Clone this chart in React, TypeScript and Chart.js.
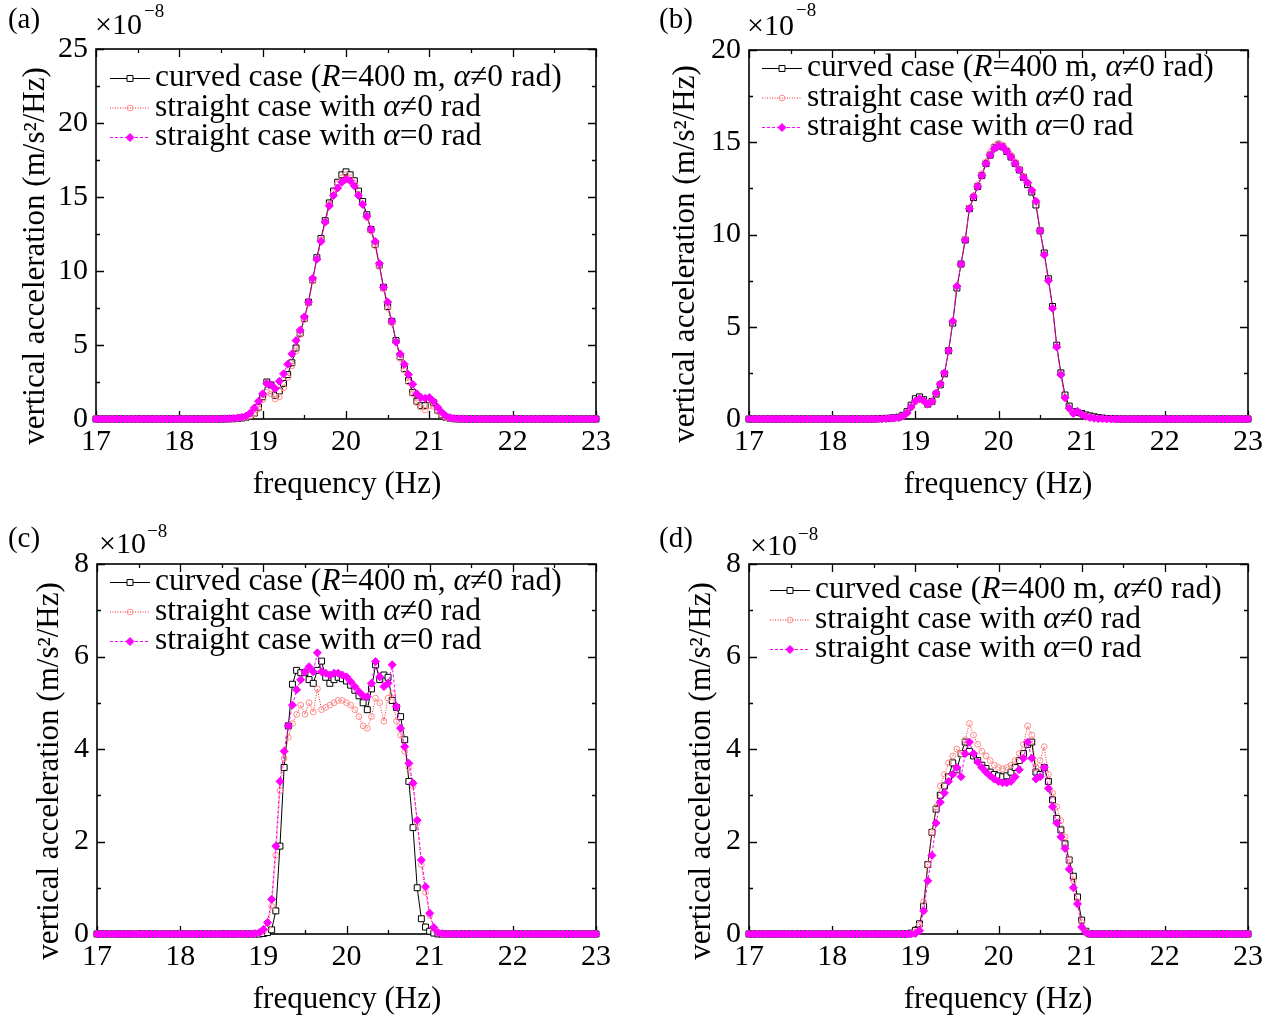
import React, { useEffect, useRef } from 'react';
import { Chart, registerables } from 'chart.js';
Chart.register(...registerables);

// ---------- data (values in units of 1e-8 m/s^2/Hz) ----------
const FREQ = [
  17, 17.05, 17.1, 17.15, 17.2, 17.25, 17.3, 17.35, 17.4, 17.45,
  17.5, 17.55, 17.6, 17.65, 17.7, 17.75, 17.8, 17.85, 17.9, 17.95,
  18, 18.05, 18.1, 18.15, 18.2, 18.25, 18.3, 18.35, 18.4, 18.45,
  18.5, 18.55, 18.6, 18.65, 18.7, 18.75, 18.8, 18.85, 18.9, 18.95,
  19, 19.05, 19.1, 19.15, 19.2, 19.25, 19.3, 19.35, 19.4, 19.45,
  19.5, 19.55, 19.6, 19.65, 19.7, 19.75, 19.8, 19.85, 19.9, 19.95,
  20, 20.05, 20.1, 20.15, 20.2, 20.25, 20.3, 20.35, 20.4, 20.45,
  20.5, 20.55, 20.6, 20.65, 20.7, 20.75, 20.8, 20.85, 20.9, 20.95,
  21, 21.05, 21.1, 21.15, 21.2, 21.25, 21.3, 21.35, 21.4, 21.45,
  21.5, 21.55, 21.6, 21.65, 21.7, 21.75, 21.8, 21.85, 21.9, 21.95,
  22, 22.05, 22.1, 22.15, 22.2, 22.25, 22.3, 22.35, 22.4, 22.45,
  22.5, 22.55, 22.6, 22.65, 22.7, 22.75, 22.8, 22.85, 22.9, 22.95,
  23,
];
// 17.00 .. 18.45
const TAIL_LOW = [0, 0, 0, 0, 0, 0, 0, 0, 0, 0, 0, 0, 0, 0, 0, 0, 0, 0, 0, 0, 0, 0, 0, 0, 0, 0, 0, 0, 0, 0];
// 21.55 .. 23.00
const TAIL_HIGH = [0, 0, 0, 0, 0, 0, 0, 0, 0, 0, 0, 0, 0, 0, 0, 0, 0, 0, 0, 0, 0, 0, 0, 0, 0, 0, 0, 0, 0, 0];

// 18.50 .. 21.50
const A_CURVED_CORE = [
  0, 0, 0.01, 0.02, 0.04, 0.07, 0.12, 0.22, 0.4, 0.8,
  1.5, 2.5, 2.3, 1.6, 1.9, 2.4, 3.0, 3.8, 4.8, 5.8,
  6.8, 7.9, 9.4, 10.9, 12.2, 13.4, 14.6, 15.4, 16.0, 16.5,
  16.7, 16.5, 16.1, 15.4, 14.7, 13.8, 12.8, 11.8, 10.4, 8.9,
  7.6, 6.6, 5.3, 4.2, 3.4, 2.6, 1.8, 1.2, 0.9, 0.9,
  1.3, 1.1, 0.6, 0.3, 0.12, 0.05, 0.02, 0, 0, 0, 0,
];
const A_STRAIGHT_CORE = [
  0, 0, 0.01, 0.02, 0.04, 0.07, 0.12, 0.2, 0.35, 0.7,
  1.3, 1.8, 1.7, 1.35, 1.5, 2.1, 2.8, 3.6, 4.6, 5.7,
  6.7, 7.8, 9.3, 10.8, 12.1, 13.3, 14.5, 15.3, 15.9, 16.3,
  16.5, 16.3, 15.9, 15.2, 14.5, 13.6, 12.7, 11.7, 10.3, 8.8,
  7.5, 6.5, 5.2, 4.1, 3.3, 2.5, 1.7, 1.1, 0.8, 0.6,
  0.9, 0.85, 0.5, 0.25, 0.1, 0.04, 0.01, 0, 0, 0, 0,
];
const A_ZERO_CORE = [
  0.01, 0.02, 0.03, 0.05, 0.08, 0.12, 0.2, 0.4, 0.75, 1.2,
  1.7, 2.4, 2.3, 2.05, 2.55, 3.05, 3.7, 4.4, 5.3, 6.0,
  6.9, 7.9, 9.5, 10.8, 12.0, 13.3, 14.4, 15.1, 15.6, 16.0,
  16.2, 16.1, 15.75, 15.1, 14.5, 13.7, 12.8, 12.0, 10.5, 8.9,
  7.9, 6.6, 5.2, 4.4, 3.7, 3.0, 2.35, 1.7, 1.45, 1.4,
  1.45, 1.2, 0.8, 0.45, 0.2, 0.09, 0.04, 0.02, 0.01, 0, 0,
];
const B_CURVED_CORE = [
  0, 0.01, 0.02, 0.03, 0.05, 0.07, 0.1, 0.2, 0.4, 0.75,
  1.1, 1.2, 1.05, 0.8, 0.95, 1.35, 1.85, 2.45, 3.7, 5.2,
  7.1, 8.4, 9.7, 11.4, 12.0, 12.6, 13.2, 13.85, 14.3, 14.7,
  14.85, 14.75, 14.5, 14.2, 13.85, 13.5, 13.1, 12.7, 12.3, 11.6,
  10.2, 9.0, 7.6, 6.1, 4.0, 2.5, 1.3, 0.7, 0.4, 0.35,
  0.3, 0.22, 0.17, 0.12, 0.08, 0.05, 0.03, 0.02, 0.01, 0, 0,
];
const B_STRAIGHT_CORE = [
  0, 0.01, 0.01, 0.02, 0.04, 0.05, 0.07, 0.15, 0.32, 0.62,
  0.93, 1.05, 0.95, 0.78, 0.93, 1.38, 1.88, 2.5, 3.7, 5.3,
  7.2, 8.4, 9.75, 11.45, 12.1, 12.7, 13.3, 13.95, 14.45, 14.8,
  14.95, 14.85, 14.6, 14.3, 13.95, 13.55, 13.15, 12.8, 12.4, 11.8,
  10.2, 8.9, 7.5, 6.0, 3.9, 2.4, 1.15, 0.55, 0.28, 0.4,
  0.24, 0.13, 0.07, 0.04, 0.02, 0.01, 0, 0, 0, 0, 0,
];
const B_ZERO_CORE = [
  0, 0.01, 0.01, 0.02, 0.04, 0.05, 0.07, 0.16, 0.34, 0.65,
  0.97, 1.1, 1.0, 0.8, 0.95, 1.4, 1.9, 2.5, 3.7, 5.3,
  7.2, 8.4, 9.7, 11.4, 12.05, 12.6, 13.2, 13.85, 14.3, 14.65,
  14.8, 14.75, 14.5, 14.2, 13.85, 13.5, 13.1, 12.8, 12.4, 11.8,
  10.2, 8.9, 7.5, 6.0, 3.9, 2.4, 1.15, 0.58, 0.3, 0.42,
  0.25, 0.14, 0.08, 0.04, 0.02, 0.01, 0, 0, 0, 0, 0,
];
const C_CURVED_CORE = [
  0, 0, 0, 0, 0, 0, 0, 0, 0, 0,
  0.01, 0.03, 0.09, 0.5, 1.9, 3.6, 4.5, 5.4, 5.7, 5.65,
  5.65, 5.5, 5.42, 5.7, 5.9, 5.55, 5.42, 5.5, 5.55, 5.52,
  5.47, 5.38, 5.27, 5.15, 5.0, 4.85, 5.3, 5.82, 5.5, 5.6,
  5.55, 5.05, 4.9, 4.7, 4.2, 3.3, 2.3, 1.0, 0.33, 0.15,
  0.06, 0.02, 0, 0, 0, 0, 0, 0, 0, 0, 0,
];
const C_STRAIGHT_CORE = [
  0, 0, 0, 0, 0, 0, 0, 0, 0.01, 0.02,
  0.05, 0.15, 0.6, 1.7, 3.1, 3.8, 4.25, 4.55, 4.75, 4.95,
  4.75, 5.0, 4.8, 5.3, 4.85, 4.9, 4.95, 5.0, 5.05, 5.05,
  5.0, 4.95, 4.85, 4.7, 4.5, 4.45, 4.7, 5.1, 5.0, 4.6,
  5.1, 5.2, 4.6, 4.3, 3.95, 3.6, 3.2, 2.4, 1.5, 0.9,
  0.4, 0.12, 0.03, 0, 0, 0, 0, 0, 0, 0, 0,
];
const C_ZERO_CORE = [
  0, 0, 0, 0, 0, 0, 0, 0, 0.01, 0.03,
  0.1, 0.25, 0.75, 1.9, 3.3, 3.95, 4.5, 4.95, 5.28, 5.5,
  5.67, 5.78, 5.67, 6.08, 5.67, 5.64, 5.6, 5.64, 5.64, 5.6,
  5.56, 5.46, 5.35, 5.24, 5.15, 5.13, 5.42, 5.89, 5.56, 5.35,
  5.42, 5.82, 4.92, 4.45, 4.05, 3.69, 3.26, 2.46, 1.6, 1.02,
  0.45, 0.14, 0.03, 0.01, 0, 0, 0, 0, 0, 0, 0,
];
const D_CURVED_CORE = [
  0, 0, 0, 0, 0, 0, 0, 0, 0, 0.02,
  0.08, 0.22, 0.6, 1.5, 2.2, 2.7, 3.0, 3.2, 3.4, 3.7,
  3.55, 3.9, 4.15, 3.95, 3.85, 3.75, 3.65, 3.58, 3.5, 3.45,
  3.42, 3.4, 3.42, 3.5, 3.6, 3.75, 3.9, 4.1, 4.15, 3.5,
  3.45, 3.6, 3.3, 2.9, 2.5, 2.25, 1.95, 1.6, 1.25, 0.8,
  0.3, 0.06, 0, 0, 0, 0, 0, 0, 0, 0, 0,
];
const D_STRAIGHT_CORE = [
  0, 0, 0, 0, 0, 0, 0, 0, 0, 0.01,
  0.05, 0.2, 0.7, 1.5, 2.2, 2.75, 3.2, 3.45, 3.7, 3.85,
  4.0, 3.9, 4.2, 4.55, 4.3, 4.1, 3.95, 3.85, 3.75, 3.65,
  3.6, 3.57, 3.6, 3.65, 3.75, 3.9, 4.1, 4.5, 4.3, 3.6,
  3.75, 4.05, 3.45, 3.05, 2.75, 2.45, 2.1, 1.6, 1.15, 0.7,
  0.25, 0.05, 0, 0, 0, 0, 0, 0, 0, 0, 0,
];
const D_ZERO_CORE = [
  0, 0, 0, 0, 0, 0, 0, 0, 0, 0,
  0.01, 0.07, 0.5, 1.15, 1.7, 2.4, 2.85, 3.05, 3.3, 3.45,
  3.6, 3.4, 3.9, 4.15, 3.9, 3.72, 3.6, 3.5, 3.42, 3.35,
  3.3, 3.27, 3.27, 3.3, 3.4, 3.55, 3.8, 4.15, 3.8, 3.35,
  3.4, 3.6, 3.15, 2.75, 2.4, 2.1, 1.85, 1.4, 1.0, 0.65,
  0.15, 0.03, 0, 0, 0, 0, 0, 0, 0, 0, 0,
];

const full = (core: number[]) => [...TAIL_LOW, ...core, ...TAIL_HIGH];

const SERIES_LABELS = [
  'curved case (R=400 m, α≠0 rad)',
  'straight case with α≠0 rad',
  'straight case with α=0 rad',
];
const X_TICKS = [17, 18, 19, 20, 21, 22, 23];
const Y_MAX = [25, 20, 8, 8];
const Y_STEP = [5, 5, 2, 2];
const PANEL_TAGS = ['(a)', '(b)', '(c)', '(d)'];
const X_TITLE = 'frequency (Hz)';
const Y_TITLE = 'vertical acceleration (m/s²/Hz)';

const PANEL_DATA = [
  [full(A_CURVED_CORE), full(A_STRAIGHT_CORE), full(A_ZERO_CORE)],
  [full(B_CURVED_CORE), full(B_STRAIGHT_CORE), full(B_ZERO_CORE)],
  [full(C_CURVED_CORE), full(C_STRAIGHT_CORE), full(C_ZERO_CORE)],
  [full(D_CURVED_CORE), full(D_STRAIGHT_CORE), full(D_ZERO_CORE)],
];

// ---------- layout (pixels) ----------
const LAYOUT = [
  { left: 0, top: 0, w: 640, h: 512, area: { l: 96, t: 49, r: 596, b: 419 }, tag: [24, 20], mult: [95, 34, 144, 17], leg: [110, 78], ytitle: [36, 256], xtitle: [347, 485] },
  { left: 640, top: 0, w: 639, h: 512, area: { l: 109, t: 50, r: 608, b: 419 }, tag: [36, 20], mult: [107, 35, 156, 16], leg: [122, 68], ytitle: [46, 254], xtitle: [358, 485] },
  { left: 0, top: 512, w: 640, h: 512, area: { l: 97, t: 52, r: 596, b: 422 }, tag: [24, 27], mult: [99, 41, 147, 25], leg: [110, 70], ytitle: [50, 259], xtitle: [347, 488] },
  { left: 640, top: 512, w: 639, h: 512, area: { l: 109, t: 52, r: 608, b: 422 }, tag: [36, 27], mult: [110, 43, 158, 28], leg: [130, 78], ytitle: [62, 259], xtitle: [358, 488] },
];

const FONT = 'Liberation Serif, Times New Roman, serif';

const STYLES = [
  { color: '#000000', dash: [] as number[], pointStyle: 'rect', radius: 4.2, pBorder: '#000000', pBg: '#ffffff' },
  { color: '#ff2a2a', dash: [1, 1.5], pointStyle: 'circle', radius: 2.9, pBorder: '#ff8a8a', pBg: 'rgba(255,255,255,0)' },
  { color: '#ff00ff', dash: [3, 2], pointStyle: 'rectRot', radius: 4, pBorder: '#ff00ff', pBg: '#ff00ff' },
];

function drawMarker(ctx: CanvasRenderingContext2D, kind: number, x: number, y: number) {
  const s = STYLES[kind];
  ctx.save();
  ctx.setLineDash([]);
  ctx.lineWidth = 1;
  ctx.strokeStyle = s.pBorder;
  ctx.fillStyle = s.pBg;
  ctx.beginPath();
  if (kind === 0) {
    const h = s.radius * Math.SQRT1_2;
    ctx.rect(x - h, y - h, 2 * h, 2 * h);
  } else if (kind === 1) {
    ctx.arc(x, y, s.radius, 0, Math.PI * 2);
  } else {
    const r = s.radius;
    ctx.moveTo(x, y - r); ctx.lineTo(x + r, y); ctx.lineTo(x, y + r); ctx.lineTo(x - r, y); ctx.closePath();
  }
  ctx.fill();
  ctx.stroke();
  ctx.restore();
}

function drawRich(ctx: CanvasRenderingContext2D, parts: [string, boolean][], x: number, y: number, size: number) {
  let cx = x;
  for (const [t, it] of parts) {
    ctx.font = `${it ? 'italic ' : ''}${size}px ${FONT}`;
    ctx.fillText(t, cx, y);
    cx += ctx.measureText(t).width;
  }
}

const LEGEND_PARTS: [string, boolean][][] = [
  [['curved case (', false], ['R', true], ['=400 m, ', false], ['α', true], ['≠0 rad)', false]],
  [['straight case with ', false], ['α', true], ['≠0 rad', false]],
  [['straight case with ', false], ['α', true], ['=0 rad', false]],
];

function makePlugin(idx: number) {
  const L = LAYOUT[idx];
  return {
    id: 'decor' + idx,
    beforeDatasetsDraw(chart: any) {
      const ctx: CanvasRenderingContext2D = chart.ctx;
      const { left, top, right, bottom } = chart.chartArea;
      const xs = chart.scales.x;
      const ys = chart.scales.y;
      ctx.save();
      ctx.strokeStyle = '#000';
      ctx.lineWidth = 1.6;
      ctx.strokeRect(left, top, right - left, bottom - top);
      ctx.lineWidth = 1.3;
      ctx.beginPath();
      for (let v = 17; v <= 23.001; v += 0.5) {
        const px = Math.round(xs.getPixelForValue(v)) + 0.5;
        const len = Math.abs(v - Math.round(v)) < 1e-6 ? 8 : 4;
        ctx.moveTo(px, bottom); ctx.lineTo(px, bottom - len);
        ctx.moveTo(px, top); ctx.lineTo(px, top + len);
      }
      const step = Y_STEP[idx] / 2;
      for (let k = 0; k * step <= Y_MAX[idx] + 1e-6; k++) {
        const v = k * step;
        const py = Math.round(ys.getPixelForValue(v)) + 0.5;
        const len = k % 2 === 0 ? 8 : 4;
        ctx.moveTo(left, py); ctx.lineTo(left + len, py);
        ctx.moveTo(right, py); ctx.lineTo(right - len, py);
      }
      ctx.stroke();
      ctx.restore();
    },
    afterDraw(chart: any) {
      const ctx: CanvasRenderingContext2D = chart.ctx;
      ctx.save();
      ctx.fillStyle = '#000';
      // panel tag
      ctx.font = `29px ${FONT}`;
      ctx.textAlign = 'center';
      ctx.textBaseline = 'middle';
      ctx.fillText(PANEL_TAGS[idx], L.tag[0], L.tag[1]);
      // multiplier
      ctx.textAlign = 'left';
      ctx.textBaseline = 'alphabetic';
      ctx.font = `30px ${FONT}`;
      ctx.fillText('×10', L.mult[0], L.mult[1]);
      ctx.font = `19px ${FONT}`;
      ctx.fillText('−8', L.mult[2], L.mult[3]);
      // axis titles
      ctx.font = `31px ${FONT}`;
      ctx.textAlign = 'center';
      ctx.textBaseline = 'middle';
      ctx.fillText(X_TITLE, L.xtitle[0], L.xtitle[1]);
      ctx.save();
      ctx.translate(L.ytitle[0], L.ytitle[1]);
      ctx.rotate(-Math.PI / 2);
      ctx.fillText(Y_TITLE, 0, 0);
      ctx.restore();
      // legend
      ctx.textAlign = 'left';
      ctx.textBaseline = 'middle';
      for (let i = 0; i < 3; i++) {
        const y = L.leg[1] + i * 29.5;
        const x0 = L.leg[0];
        const s = STYLES[i];
        ctx.save();
        ctx.strokeStyle = s.color;
        ctx.lineWidth = 1;
        ctx.setLineDash(s.dash);
        ctx.beginPath();
        ctx.moveTo(x0, y + 0.5);
        ctx.lineTo(x0 + 40, y + 0.5);
        ctx.stroke();
        ctx.restore();
        drawMarker(ctx, i, x0 + 20, y + 0.5);
        ctx.fillStyle = '#000';
        drawRich(ctx, LEGEND_PARTS[i], x0 + 45, y, 31.5);
      }
      ctx.restore();
    },
  };
}

function Panel({ idx }: { idx: number }) {
  const ref = useRef<HTMLCanvasElement>(null);
  useEffect(() => {
    const L = LAYOUT[idx];
    const series = PANEL_DATA[idx];
    const datasets = series.map((vals, si) => {
      const s = STYLES[si];
      return {
        label: SERIES_LABELS[si],
        data: FREQ.map((f, i) => ({ x: f, y: vals[i] })),
        borderColor: s.color,
        borderWidth: 1,
        borderDash: s.dash,
        pointStyle: s.pointStyle,
        pointRadius: s.radius,
        pointBorderColor: s.pBorder,
        pointBackgroundColor: s.pBg,
        pointBorderWidth: 1,
        tension: 0,
        clip: false,
        order: 3 - si,
      };
    });
    const chart = new Chart(ref.current as HTMLCanvasElement, {
      type: 'line',
      data: { datasets } as any,
      options: {
        responsive: false,
        animation: false,
        devicePixelRatio: 1,
        layout: { padding: { left: 0, top: L.area.t, right: L.w - L.area.r, bottom: 0 } },
        plugins: { legend: { display: false }, tooltip: { enabled: false }, title: { display: false } },
        scales: {
          x: {
            type: 'linear',
            min: 17,
            max: 23,
            afterBuildTicks: (scale: any) => { scale.ticks = X_TICKS.map((v) => ({ value: v })); },
            ticks: { color: '#000', font: { family: FONT, size: 30 }, padding: 5, maxRotation: 0, autoSkip: false },
            grid: { display: false, drawTicks: false },
            border: { display: false },
            afterFit: (scale: any) => { scale.height = L.h - L.area.b; },
          },
          y: {
            type: 'linear',
            min: 0,
            max: Y_MAX[idx],
            ticks: { stepSize: Y_STEP[idx], color: '#000', font: { family: FONT, size: 30 }, padding: 8 },
            grid: { display: false, drawTicks: false },
            border: { display: false },
            afterFit: (scale: any) => { scale.width = L.area.l; },
          },
        },
      } as any,
      plugins: [makePlugin(idx)],
    });
    return () => chart.destroy();
  }, [idx]);
  const L = LAYOUT[idx];
  return (
    <canvas
      ref={ref}
      width={L.w}
      height={L.h}
      style={{ position: 'absolute', left: L.left, top: L.top, width: L.w, height: L.h }}
    />
  );
}

export default function App() {
  return (
    <div style={{ position: 'absolute', left: 0, top: 0, width: 1279, height: 1024, background: '#fff', overflow: 'hidden' }}>
      {[0, 1, 2, 3].map((i) => (
        <Panel key={i} idx={i} />
      ))}
    </div>
  );
}
